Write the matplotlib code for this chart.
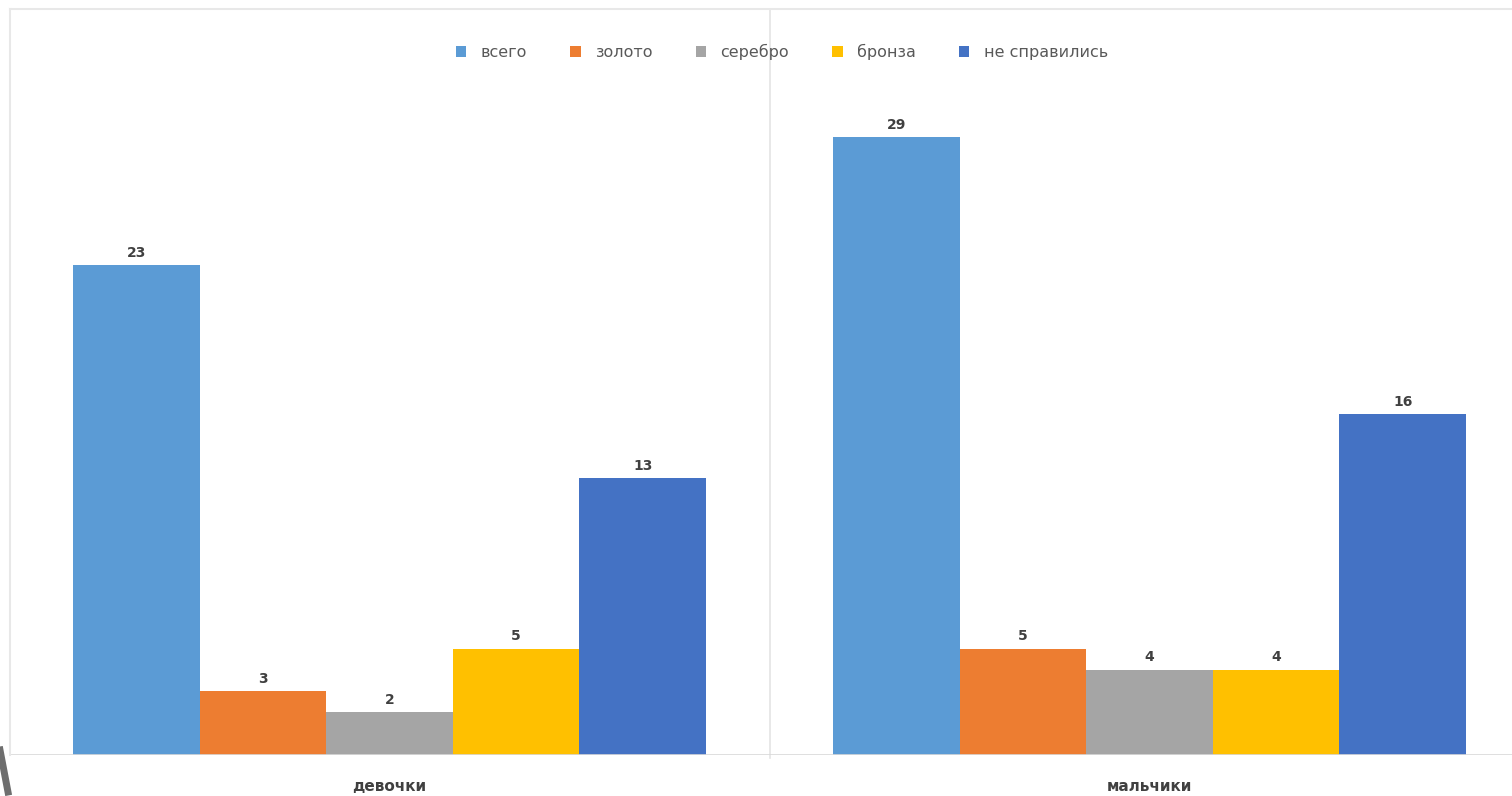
import matplotlib.pyplot as plt
import numpy as np

# medal results by group
groups = ["девочки", "мальчики"]
series = ["всего", "золото", "серебро", "бронза", "не справились"]
vsego = [23, 29]
zoloto = [3, 5]
serebro = [2, 4]
bronza = [5, 4]
ne_spravilis = [13, 16]
colors = ["#5B9BD5", "#ED7D31", "#A5A5A5", "#FFC000", "#4472C4"]

W, H = 1512, 796
fig = plt.figure(figsize=(W / 100, H / 100), dpi=100)
fig.patch.set_facecolor("white")

# plot area: left edge at 9.5px, baseline at 755px, right side runs off the canvas
ax = fig.add_axes([9.5 / W, (H - 755) / H, 1 - 9.5 / W, (755 - 9) / H])
ax.set_xlim(-0.5, -0.5 + (W - 9.5) / 760)
ax.set_ylim(0, (755 - 9) / 21.3)

values = [vsego, zoloto, serebro, bronza, ne_spravilis]
x = np.arange(len(groups))
n = len(series)
group_w = 633 / 760
bar_w = group_w / n

for i, (name, vals, c) in enumerate(zip(series, values, colors)):
    pos = x - group_w / 2 + bar_w * (i + 0.5)
    bars = ax.bar(pos, vals, width=bar_w, color=c, label=name, linewidth=0)
    for b, v in zip(bars, vals):
        ax.annotate(str(v), (b.get_x() + b.get_width() / 2, v),
                    xytext=(0, 4), textcoords="offset points",
                    ha="center", va="bottom", fontsize=10,
                    fontweight="bold", color="#404040")

# category separator and frame
ax.axvline(0.5, color="#e4e4e4", linewidth=1.2, ymin=-0.004, clip_on=False)
ax.axhline(0, color="#d9d9d9", linewidth=1.2)
for s in ["top", "left"]:
    ax.spines[s].set_color("#e8e8e8")
    ax.spines[s].set_linewidth(1.5)
ax.spines["right"].set_visible(False)
ax.spines["bottom"].set_visible(False)

ax.set_yticks([])
ax.set_xticks(x)
ax.set_xticklabels(groups, fontsize=11, fontweight="bold", color="#404040")
ax.tick_params(axis="x", length=0, pad=17)

fig.legend(loc="center", bbox_to_anchor=(782 / W, 1 - 52 / H), ncol=5,
           frameon=False, fontsize=11.5, labelcolor="#595959",
           handlelength=0.65, handleheight=0.75, handletextpad=0.9,
           columnspacing=2.7)

# dark corner shape at the lower left
fig.add_artist(plt.Line2D([0 / W, 8 / W], [1 - 750 / H, 1 - 792 / H],
                          color="#6e6e6e", linewidth=5,
                          transform=fig.transFigure))

fig.savefig("out.png", dpi=100)
